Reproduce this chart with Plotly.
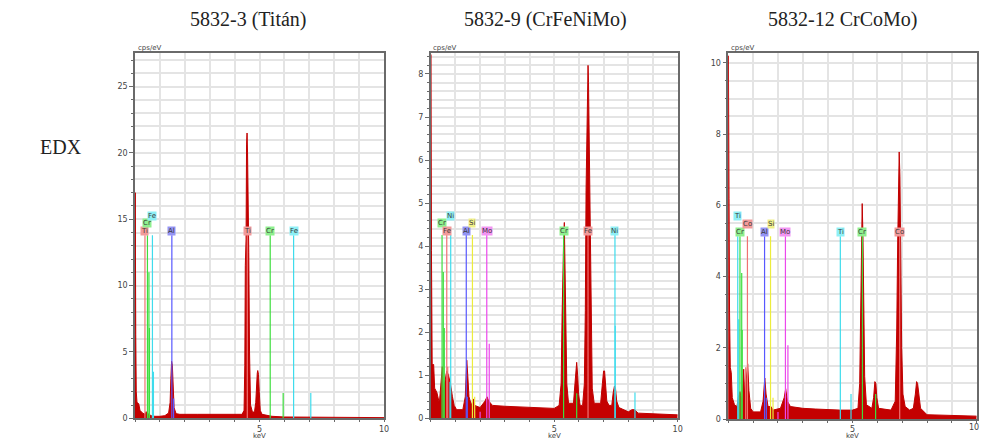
import plotly.graph_objects as go

# ---------------- data ----------------
TITLES = ["5832-3 (Titán)", "5832-9 (CrFeNiMo)", "5832-12 CrCoMo)"]
ROW_LABEL = "EDX"
X_TICKS = [5, 10]
Y_MAX = [27.55, 8.48, 10.27]

# Spectrum 1 (keV, cps/eV)
E1 = [0.00, 0.01, 0.02, 0.03, 0.05, 0.08, 0.15, 0.20, 0.30, 0.40, 0.45, 0.55, 0.65, 0.80, 1.00,
      1.20, 1.35, 1.41, 1.44, 1.47, 1.50, 1.53, 1.57, 1.65, 1.80, 2.50, 3.00, 3.50, 4.00, 4.30,
      4.38, 4.41, 4.43, 4.46, 4.48, 4.50, 4.52, 4.54, 4.57, 4.60, 4.64, 4.72, 4.80, 4.85, 4.88,
      4.91, 4.93, 4.96, 4.99, 5.03, 5.10, 5.50, 6.00, 7.00, 8.00, 9.00, 10.00]
C1 = [0.0, 17.0, 12.8, 6.3, 2.0, 1.2, 1.1, 0.6, 0.4, 0.3, 0.5, 0.3, 0.2, 0.15, 0.15,
      0.2, 0.4, 1.2, 3.0, 4.3, 4.0, 2.2, 0.8, 0.35, 0.3, 0.3, 0.3, 0.28, 0.25, 0.3,
      0.6, 4.0, 11.5, 13.5, 20.6, 21.5, 20.0, 17.5, 12.5, 5.0, 1.0, 0.45, 0.5, 1.2, 2.8,
      3.4, 3.6, 3.3, 2.0, 0.6, 0.3, 0.15, 0.1, 0.08, 0.07, 0.06, 0.05]

# Spectrum 2
E2 = [0.00, 0.005, 0.015, 0.03, 0.06, 0.12, 0.16, 0.25, 0.35, 0.42, 0.47, 0.50, 0.58, 0.65, 0.72,
      0.80, 0.88, 0.95, 1.05, 1.30, 1.40, 1.46, 1.50, 1.55, 1.65, 1.72, 1.78, 2.00, 2.20, 2.28,
      2.35, 2.50, 3.00, 3.50, 4.00, 4.50, 5.00, 5.20, 5.28, 5.32, 5.35, 5.38, 5.41, 5.44, 5.47,
      5.51, 5.58, 5.78, 5.84, 5.88, 5.91, 5.95, 5.99, 6.05, 6.15, 6.22, 6.26, 6.29, 6.32, 6.35,
      6.37, 6.39, 6.42, 6.45, 6.49, 6.54, 6.62, 6.88, 6.95, 7.00, 7.04, 7.08, 7.13, 7.22, 7.33,
      7.39, 7.44, 7.48, 7.53, 7.62, 8.00, 8.15, 8.25, 8.40, 9.00, 10.00]
C2 = [0.0, 8.45, 8.2, 3.9, 1.25, 1.25, 0.7, 0.6, 0.35, 0.8, 1.2, 0.6, 0.9, 1.1, 1.0,
      0.8, 0.5, 0.3, 0.2, 0.2, 0.5, 1.35, 1.0, 0.5, 0.3, 0.45, 0.3, 0.25, 0.4, 0.5,
      0.4, 0.3, 0.28, 0.27, 0.25, 0.24, 0.23, 0.3, 0.8, 2.4, 3.5, 4.1, 4.55, 3.6, 2.0,
      0.8, 0.35, 0.35, 0.8, 1.25, 1.3, 1.0, 0.55, 0.3, 0.3, 0.8, 2.5, 5.3, 6.9, 8.0,
      8.2, 7.8, 6.4, 4.5, 2.0, 0.7, 0.35, 0.35, 0.8, 1.1, 1.1, 0.8, 0.4, 0.3, 0.3,
      0.6, 0.75, 0.7, 0.4, 0.25, 0.15, 0.2, 0.2, 0.12, 0.1, 0.08]

# Spectrum 3
E3 = [0.00, 0.005, 0.012, 0.03, 0.05, 0.08, 0.12, 0.16, 0.25, 0.35, 0.40, 0.47, 0.55, 0.62, 0.66,
      0.72, 0.78, 0.83, 0.90, 1.00, 1.30, 1.40, 1.47, 1.52, 1.60, 1.72, 1.80, 2.10, 2.25, 2.31,
      2.38, 2.50, 3.00, 3.50, 4.00, 4.50, 5.00, 5.22, 5.29, 5.33, 5.36, 5.39, 5.42, 5.45, 5.49,
      5.56, 5.78, 5.85, 5.90, 5.94, 5.98, 6.05, 6.55, 6.72, 6.78, 6.82, 6.85, 6.88, 6.91, 6.94,
      6.98, 7.03, 7.12, 7.30, 7.45, 7.53, 7.58, 7.62, 7.67, 7.74, 8.00, 9.00, 10.00]
C3 = [0.0, 10.2, 7.9, 6.2, 3.0, 1.45, 1.3, 0.6, 0.4, 0.35, 0.6, 0.77, 0.5, 1.4, 0.6,
      1.0, 1.55, 0.8, 0.3, 0.2, 0.2, 0.5, 1.15, 0.7, 0.35, 0.35, 0.25, 0.3, 0.6, 0.85,
      0.5, 0.35, 0.3, 0.28, 0.26, 0.25, 0.25, 0.3, 1.0, 2.8, 5.4, 6.05, 5.2, 3.0, 1.2,
      0.4, 0.3, 0.6, 1.05, 1.0, 0.6, 0.3, 0.25, 0.5, 2.5, 5.0, 6.8, 7.5, 6.8, 4.5,
      2.0, 0.7, 0.35, 0.25, 0.3, 0.7, 1.05, 1.0, 0.7, 0.3, 0.12, 0.1, 0.08]

# Element marker lines: labelled lines (element, keV, label stack level)
M1_EL = ["Ti", "Cr", "Fe", "Al", "Ti", "Cr", "Fe"]
M1_E = [0.40, 0.50, 0.70, 1.48, 4.51, 5.43, 6.37]
M1_LEVEL = [0, 1, 2, 0, 0, 0, 0]
# secondary lines (element, keV, height)
S1_EL = ["Cr", "Cr", "Fe", "Al", "Cr", "Fe"]
S1_E = [0.56, 0.58, 0.74, 1.55, 5.95, 7.06]
S1_H = [11.0, 6.8, 3.5, 1.5, 1.9, 1.9]

M2_EL = ["Cr", "Fe", "Ni", "Al", "Si", "Mo", "Cr", "Fe", "Ni"]
M2_E = [0.46, 0.65, 0.81, 1.44, 1.69, 2.27, 5.38, 6.37, 7.46]
M2_LEVEL = [1, 0, 2, 0, 1, 0, 0, 0, 0]
S2_EL = ["Cr", "Cr", "Fe", "Ni", "Al", "Si", "Mo", "Mo", "Cr", "Ni", "Ni"]
S2_E = [0.51, 0.55, 0.69, 0.78, 1.48, 1.78, 2.37, 2.00, 5.91, 8.27, 7.47]
S2_H = [3.4, 2.1, 1.2, 0.85, 0.5, 0.5, 1.73, 0.15, 0.58, 0.6, 2.15]

M3_EL = ["Ti", "Cr", "Co", "Al", "Si", "Mo", "Ti", "Cr", "Co"]
M3_E = [0.38, 0.47, 0.77, 1.46, 1.70, 2.30, 4.51, 5.40, 6.90]
M3_LEVEL = [2, 0, 1, 0, 1, 0, 0, 0, 0]
S3_EL = ["Ti", "Cr", "Cr", "Co", "Al", "Si", "Mo", "Mo", "Ti", "Cr"]
S3_E = [0.42, 0.54, 0.56, 0.70, 1.53, 1.80, 2.40, 2.00, 4.94, 5.93]
S3_H = [2.8, 4.1, 2.5, 1.45, 0.6, 0.6, 2.07, 0.2, 0.7, 0.7]

# ---------------- styles ----------------
PAL = {
    "red": ("#f07272", "#f29a9a"),
    "green": ("#3ede3e", "#8ef08e"),
    "cyan": ("#3edcec", "#8ef0f6"),
    "blue": ("#5858ff", "#9494f4"),
    "yellow": ("#ecec3c", "#f0f08a"),
    "mag": ("#ec48ec", "#f294f2"),
}
COLMAP = [
    {"Ti": "red", "Cr": "green", "Fe": "cyan", "Al": "blue"},
    {"Cr": "green", "Fe": "red", "Ni": "cyan", "Al": "blue", "Si": "yellow", "Mo": "mag"},
    {"Ti": "cyan", "Cr": "green", "Co": "red", "Al": "blue", "Si": "yellow", "Mo": "mag"},
]
LEVELS = [[14.1, 14.68, 15.26], [4.35, 4.53, 4.71], [5.25, 5.47, 5.69]]
LINE_TOP = [13.8, 4.26, 5.13]

DOM_X = [[135 / 981, 384 / 981], [430.7 / 981, 677.7 / 981], [728.3 / 981, 976.7 / 981]]
DOM_Y = [[1 - 418.3 / 440, 1 - 52.7 / 440], [1 - 418.3 / 440, 1 - 53.3 / 440], [1 - 419 / 440, 1 - 53.3 / 440]]
Y_DTICK = [5, 1, 2]
Y_MINOR = [1, 0.2, 0.5]
TITLE_X = [248, 545, 842]

SPEC = [(E1, C1), (E2, C2), (E3, C3)]
MAINS = [(M1_EL, M1_E, M1_LEVEL), (M2_EL, M2_E, M2_LEVEL), (M3_EL, M3_E, M3_LEVEL)]
SECS = [(S1_EL, S1_E, S1_H), (S2_EL, S2_E, S2_H), (S3_EL, S3_E, S3_H)]

fig = go.Figure()
annotations = []
GRID = "#e4e4e4"
AX = "#6a6a6a"
TICKFONT = dict(family="DejaVu Sans", size=8, color="#444")

for i in range(3):
    xa = "x" if i == 0 else f"x{i+1}"
    ya = "y" if i == 0 else f"y{i+1}"
    xk = "xaxis" if i == 0 else f"xaxis{i+1}"
    yk = "yaxis" if i == 0 else f"yaxis{i+1}"
    cmap = COLMAP[i]

    groups = {}
    els, es, lv = MAINS[i]
    for el, e in zip(els, es):
        groups.setdefault(cmap[el], []).append((e, LINE_TOP[i]))
    sels, ses, shs = SECS[i]
    for el, e, h in zip(sels, ses, shs):
        groups.setdefault(cmap[el], []).append((e, h))

    ex, cy = SPEC[i]
    fig.add_trace(go.Scatter(x=ex, y=cy, mode="lines", fill="tozeroy",
                             line=dict(color="#c00000", width=1), fillcolor="#c40000",
                             xaxis=xa, yaxis=ya, showlegend=False, hoverinfo="skip"))

    for ck, segs in groups.items():
        xs, ys = [], []
        for e, h in segs:
            xs += [e, e, None]
            ys += [0, h, None]
        fig.add_trace(go.Scatter(x=xs, y=ys, mode="lines",
                                 line=dict(color=PAL[ck][0], width=1.2),
                                 xaxis=xa, yaxis=ya, showlegend=False, hoverinfo="skip"))

    for el, e, l in zip(els, es, lv):
        annotations.append(dict(x=e, y=LEVELS[i][l], xref=xa, yref=ya, text=el, showarrow=False,
                                bgcolor=PAL[cmap[el]][1], borderpad=0,
                                font=dict(family="DejaVu Sans", size=7, color="#3a3a3a"),
                                xanchor="center", yanchor="middle"))

    # x tick labels: drawn by the axis, except the last panel's right-edge label, which
    # sits at the page edge (plotly would hide it) and is written at the page edge instead
    if i < 2:
        ttext = [str(v) for v in X_TICKS]
    else:
        ttext = [str(v) for v in X_TICKS[:-1]] + [""]
        annotations.append(dict(x=1.0, y=1 - 427.5 / 440, xref="paper", yref="paper",
                                text=str(X_TICKS[-1]), showarrow=False, xanchor="right",
                                yanchor="middle", font=TICKFONT))

    fig.update_layout(**{
        xk: dict(domain=DOM_X[i], anchor=ya, range=[0, 10], tickvals=X_TICKS, ticktext=ttext,
                 ticks="outside", ticklen=2, tickcolor=AX, tickfont=TICKFONT,
                 ticklabeloverflow="allow",
                 showgrid=True, gridcolor=GRID, gridwidth=1.5,
                 minor=dict(dtick=1, tick0=0, showgrid=True, gridcolor=GRID, gridwidth=1.5,
                            ticks="outside", ticklen=2, tickcolor=AX),
                 showline=True, linecolor=AX, linewidth=1.5, mirror=True, zeroline=False),
        yk: dict(domain=DOM_Y[i], anchor=xa, range=[0, Y_MAX[i]], dtick=Y_DTICK[i], tick0=0,
                 ticks="outside", ticklen=4, tickcolor=AX, tickfont=TICKFONT,
                 ticklabeloverflow="allow",
                 showgrid=True, gridcolor=GRID, gridwidth=1.5,
                 minor=dict(dtick=Y_MINOR[i], tick0=0, showgrid=True, gridcolor=GRID, gridwidth=1.5,
                            ticks="outside", ticklen=2, tickcolor=AX),
                 showline=True, linecolor=AX, linewidth=1.5, mirror=True, zeroline=False),
    })

    annotations.append(dict(x=TITLE_X[i] / 981, y=1 - 20 / 440, xref="paper", yref="paper",
                            text=TITLES[i], showarrow=False, xanchor="center", yanchor="middle",
                            font=dict(family="Liberation Serif", size=20, color="#222")))
    annotations.append(dict(x=DOM_X[i][0] + 0.5 / 981, y=1 - 48 / 440, xref="paper", yref="paper",
                            text="cps/eV", showarrow=False, xanchor="left", yanchor="middle",
                            font=dict(family="DejaVu Sans", size=7, color="#444")))
    annotations.append(dict(x=(DOM_X[i][0] + DOM_X[i][1]) / 2, y=1 - 435.5 / 440, xref="paper", yref="paper",
                            text="keV", showarrow=False, xanchor="center", yanchor="middle",
                            font=dict(family="DejaVu Sans", size=7, color="#444")))

annotations.append(dict(x=38 / 981, y=1 - 147 / 440, xref="paper", yref="paper", text=ROW_LABEL,
                        showarrow=False, xanchor="left", yanchor="middle",
                        font=dict(family="Liberation Serif", size=20, color="#222")))

fig.update_layout(width=981, height=440,
                  margin=dict(l=0, r=0, t=0, b=0, pad=0, autoexpand=False),
                  paper_bgcolor="white", plot_bgcolor="white",
                  annotations=annotations, showlegend=False)

fig.write_html("out.html", config={"displayModeBar": False},
               post_script="document.body.style.margin='0px';document.body.style.overflow='hidden';")
